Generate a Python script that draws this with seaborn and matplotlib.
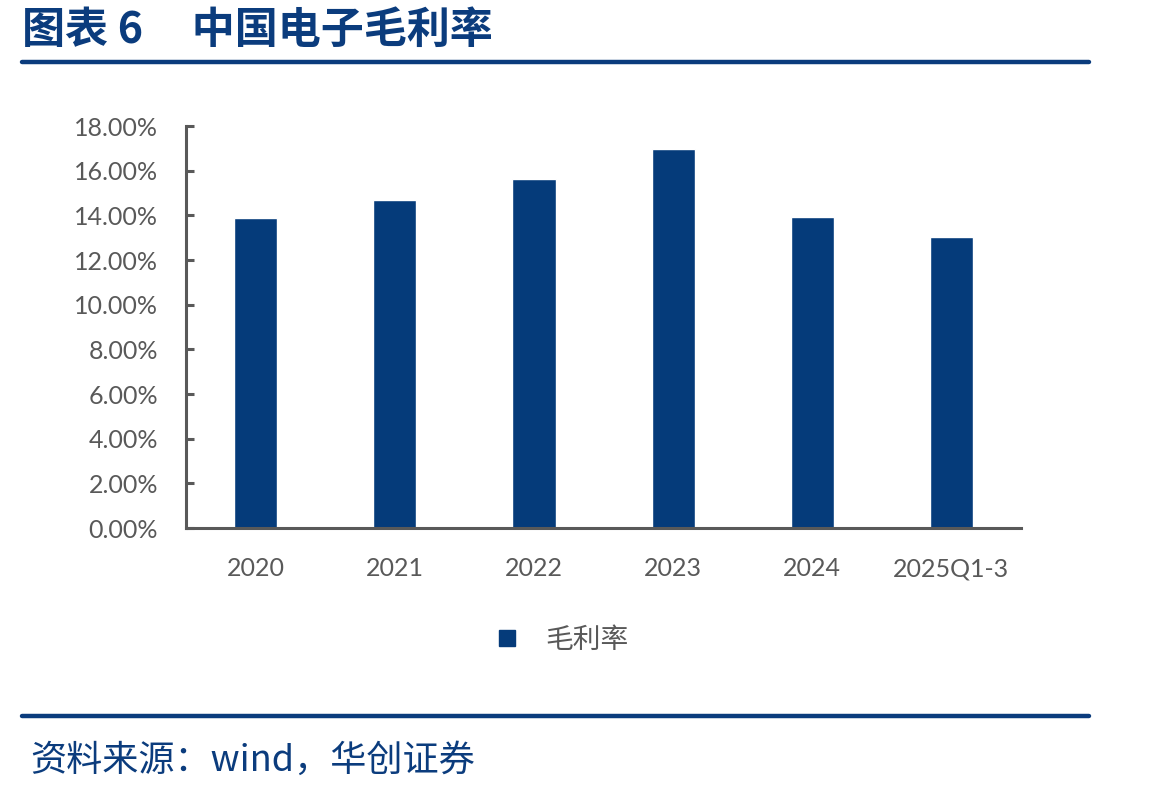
import matplotlib
matplotlib.use('Agg')
import matplotlib.pyplot as plt
import seaborn as sns
from matplotlib.lines import Line2D
from matplotlib.ticker import FuncFormatter

categories = ['2020', '2021', '2022', '2023', '2024', '2025Q1-3']
gross_margin = [13.87, 14.67, 15.62, 16.97, 13.92, 13.03]
series_name = '毛利率'
title_text = '图表 6     中国电子毛利率'
source_text = '资料来源：wind，华创证券'

navy = '#053B7A'
gray = '#595959'

sns.set_style('white')
plt.rcParams['font.family'] = ['Lato', 'Noto Sans CJK SC', 'DejaVu Sans']

fig = plt.figure(figsize=(11.49, 7.92), dpi=100)
ax = fig.add_axes([0.1619, 0.3333, 0.7267, 0.5076])

sns.barplot(x=categories, y=gross_margin, color=navy, width=0.31,
            saturation=1, ax=ax)

ax.set_ylim(0, 18)
ax.set_yticks(range(0, 19, 2))
ax.yaxis.set_major_formatter(FuncFormatter(lambda v, p: f'{v:.2f}%'))
ax.set_xlabel('')
ax.set_ylabel('')

for side in ['top', 'right']:
    ax.spines[side].set_visible(False)
for side in ['left', 'bottom']:
    ax.spines[side].set_color(gray)
    ax.spines[side].set_linewidth(2.2)

ax.tick_params(axis='y', direction='in', length=6, width=2.2, color=gray,
               labelcolor=gray, labelsize=18, pad=20, left=True)
ax.tick_params(axis='x', length=0, labelcolor=gray, labelsize=18, pad=21)

# legend
handle = Line2D([], [], marker='s', linestyle='', color=navy, markersize=11)
fig.legend([handle], [series_name], loc='center', bbox_to_anchor=(0.482, 0.192),
           frameon=False, labelcolor=gray, handletextpad=0.4,
           prop={'family': ['Noto Sans CJK SC'], 'size': 20})

# header and footer
fig.text(0.019, 0.962, title_text, fontsize=31, fontweight='bold', color='#0B3C7D',
         family=['Noto Sans CJK SC'], va='center', ha='left')
fig.add_artist(Line2D([0.019, 0.948], [0.922, 0.922], color='#0B3C7D', lw=3.2))
fig.add_artist(Line2D([0.019, 0.948], [0.096, 0.096], color='#0B3C7D', lw=3.2))
fig.text(0.026, 0.040, source_text, fontsize=26, style='italic', color='#0B3C7D',
         family=['Noto Sans CJK SC'], va='center', ha='left')

fig.savefig('out.png', dpi=100)
